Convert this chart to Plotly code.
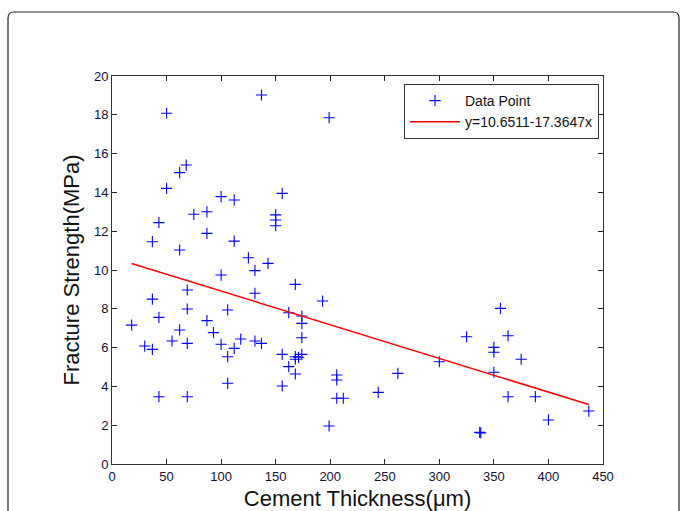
import plotly.graph_objects as go

thickness = [50, 137, 62, 68, 50, 100, 112, 75, 87, 43, 37, 87, 112, 62, 125, 143, 131,
             150, 150, 150, 156, 199,
             18, 30, 37, 37, 43, 43, 55, 62, 69, 69, 69, 69, 87, 93, 100, 100, 106, 106, 106,
             112, 118, 131, 131, 137,
             168, 193, 162, 174, 174, 174, 174, 156, 168, 168, 171, 162, 168, 156,
             206, 206, 206, 212, 199, 244, 262, 300,
             325, 356, 363, 350, 350, 375, 350, 363, 388, 400, 437, 337, 338]
strength = [18.08, 19.02, 15.02, 15.41, 14.21, 13.78, 13.61, 12.87, 13.0, 12.44, 11.46, 11.89,
            11.49, 11.03, 10.63, 10.34, 8.8,
            12.84, 12.58, 12.28, 13.95, 17.85,
            7.16, 6.08, 5.91, 8.5, 7.56, 3.47, 6.34, 6.91, 8.97, 7.99, 6.22, 3.47, 7.39, 6.77,
            9.74, 6.17, 7.94, 5.53, 4.16,
            5.96, 6.44, 9.97, 6.34, 6.22,
            9.26, 8.4, 7.8, 7.63, 7.25, 6.51, 5.65, 5.65, 5.53, 5.4, 5.5, 5.02, 4.64, 4.02,
            4.59, 4.33, 3.39, 3.39, 1.96, 3.69, 4.67, 5.27,
            6.56, 8.02, 6.61, 6.01, 5.76, 5.4, 4.73, 3.47, 3.47, 2.27, 2.73, 1.63, 1.6]

intercept = 10.6511
slope = -17.3647  # per mm
fit_x = [min(thickness), max(thickness)]
fit_y = [intercept + slope * v / 1000 for v in fit_x]

x_ticks = list(range(0, 451, 50))
y_ticks = list(range(0, 21, 2))

font_fam = "Liberation Sans, Arial, sans-serif"
title_fam = "Liberation Sans, Arial, sans-serif"

fig = go.Figure()
fig.add_trace(go.Scatter(
    x=thickness, y=strength, mode="markers", name="Data Point",
    marker=dict(symbol="cross-thin", size=8, color="#0000FF",
                line=dict(color="#0000FF", width=1.1)),
))
fig.add_trace(go.Scatter(
    x=fit_x, y=fit_y, mode="lines", name="y=10.6511-17.3647x",
    line=dict(color="#FF0000", width=1.5),
))

L, R, T, B = 112, 77, 76, 47
W, H = 680, 511
pw, ph = W - L - R, H - T - B

def px(xp):
    return (xp - L) / pw

def py(yp):
    return (H - B - yp) / ph

x0, x1 = px(8), px(679)
yt, yb = py(12), py(560)
dx, dy = 6 / pw, 6 / ph
path = (f"M {x0},{yb} L {x0},{yt - dy} Q {x0},{yt} {x0 + dx},{yt} "
        f"L {x1 - dx},{yt} Q {x1},{yt} {x1},{yt - dy} L {x1},{yb}")

fig.add_shape(type="path", path=path, xref="paper", yref="paper",
              line=dict(color="#222222", width=1.2), layer="below")

axis_common = dict(
    showgrid=False, zeroline=False, showline=True, linecolor="#333333", linewidth=1,
    mirror="allticks", ticks="inside", ticklen=5, tickcolor="#222222",
    tickfont=dict(family=font_fam, size=13, color="#111133"),
    automargin=False,
)

fig.update_layout(
    width=W, height=H,
    margin=dict(l=L, r=R, t=T, b=B),
    paper_bgcolor="white", plot_bgcolor="white",
    font=dict(family=font_fam),
    xaxis=dict(range=[0, 450], tickvals=x_ticks, ticktext=[str(v) for v in x_ticks],
               title=dict(text="Cement Thickness(μm)", standoff=12,
                          font=dict(family=title_fam, size=22, color="#111111")),
               **axis_common),
    yaxis=dict(range=[0, 20], tickvals=y_ticks, ticktext=[str(v) for v in y_ticks],
               title=dict(text="Fracture Strength(MPa)", standoff=8,
                          font=dict(family=title_fam, size=22, color="#111111")),
               **axis_common),
    legend=dict(x=px(599), y=py(84), xanchor="right", yanchor="top",
                bordercolor="#333333", borderwidth=1, bgcolor="white",
                font=dict(family=title_fam, size=14, color="#111111"),
                tracegroupgap=0, itemwidth=50),
    showlegend=True,
)

fig.write_html("out.html", config={"displayModeBar": False},
               post_script="document.body.style.margin='0';")
